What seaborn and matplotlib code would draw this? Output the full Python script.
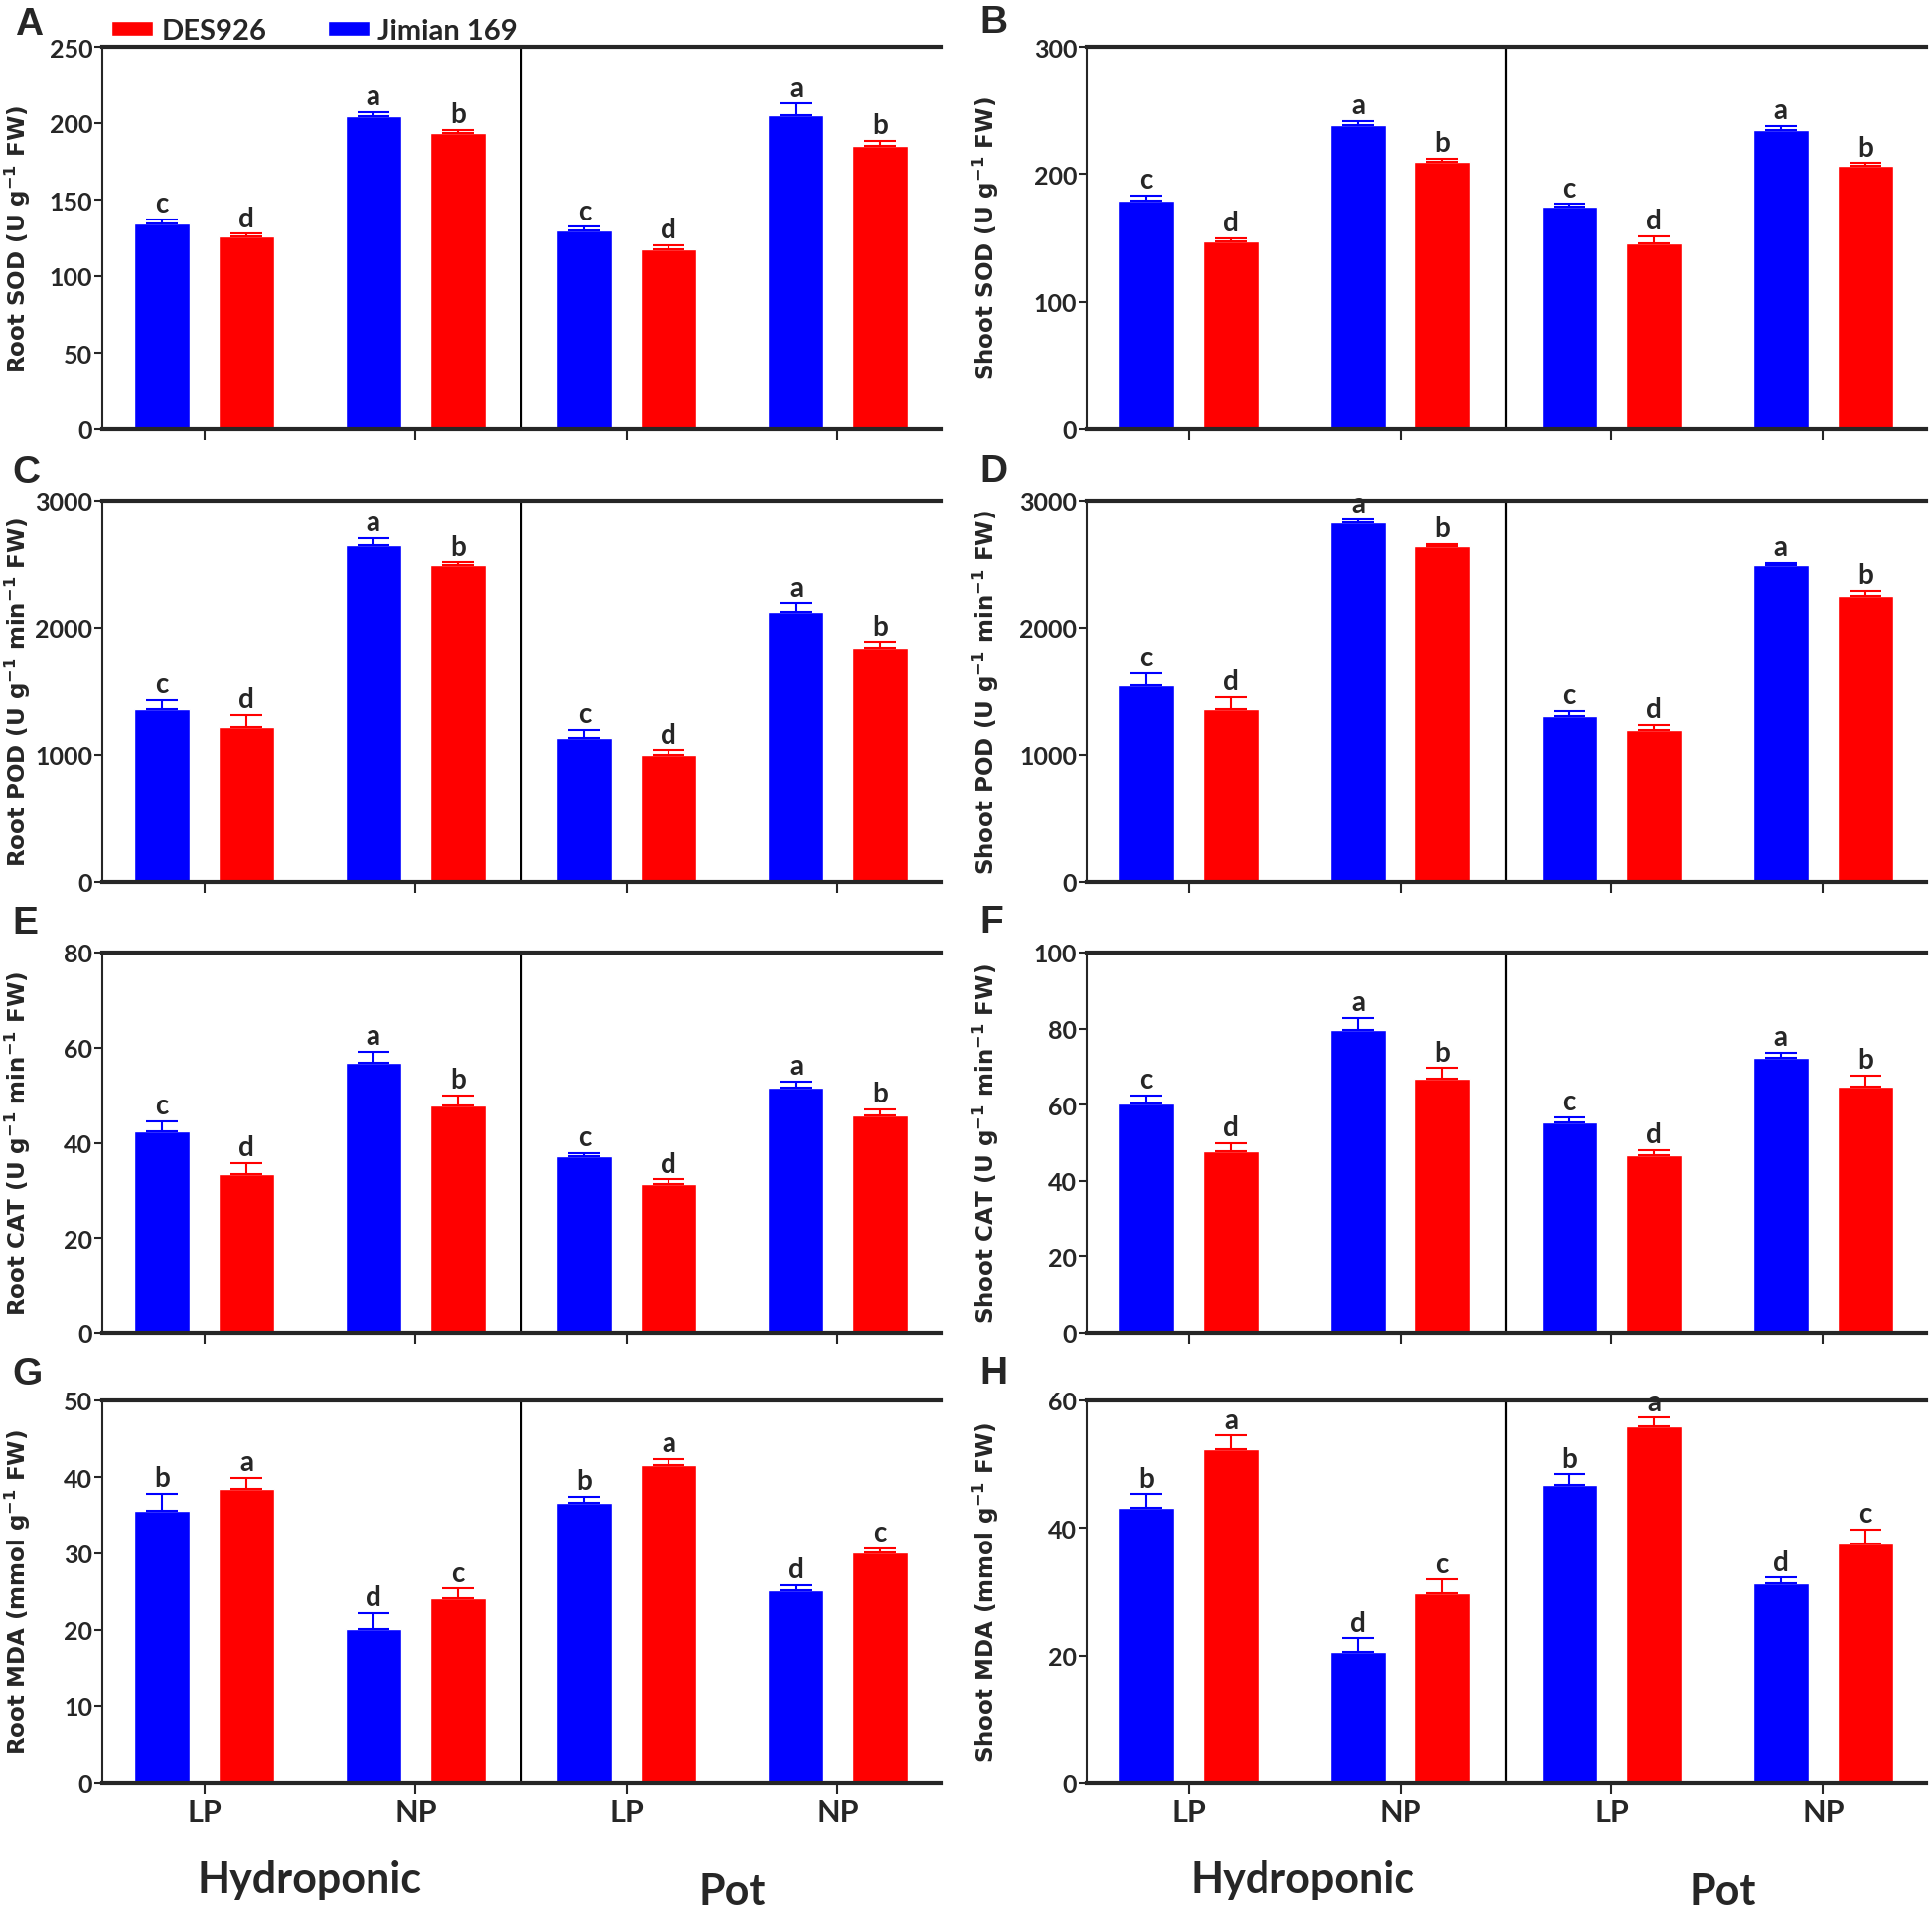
import numpy as np
import pandas as pd
import seaborn as sns
import matplotlib.pyplot as plt
from matplotlib.patches import Patch

CONDITIONS = ['Hydroponic LP', 'Hydroponic NP', 'Pot LP', 'Pot NP']
TICK_LABELS = ['LP', 'NP', 'LP', 'NP']
CULTIVARS = ['Jimian 169', 'DES926']
COLORS = {'Jimian 169': '#0000FF', 'DES926': '#FF0000'}

# means and SE, order = CONDITIONS
root_sod_jim = [134.3, 204.4, 129.6, 205.1]
root_sod_jim_se = [2.6, 2.8, 2.6, 7.6]
root_sod_des = [125.9, 193.6, 117.4, 185.1]
root_sod_des_se = [1.7, 2.1, 3.0, 3.1]

shoot_sod_jim = [179.6, 238.7, 174.2, 234.5]
shoot_sod_jim_se = [3.5, 3.1, 2.3, 3.4]
shoot_sod_des = [147.4, 209.3, 145.8, 206.7]
shoot_sod_des_se = [2.3, 2.6, 5.2, 1.8]

root_pod_jim = [1356, 2649, 1135, 2122]
root_pod_jim_se = [73, 57, 60, 70]
root_pod_des = [1221, 2494, 1000, 1844]
root_pod_des_se = [93, 18, 36, 44]

shoot_pod_jim = [1546, 2828, 1304, 2490]
shoot_pod_jim_se = [93, 24, 41, 21]
shoot_pod_des = [1363, 2639, 1197, 2253]
shoot_pod_des_se = [89, 18, 36, 39]

root_cat_jim = [42.4, 56.9, 37.1, 51.5]
root_cat_jim_se = [2.1, 2.2, 0.8, 1.4]
root_cat_des = [33.5, 47.9, 31.3, 45.8]
root_cat_des_se = [2.3, 2.1, 1.0, 1.3]

shoot_cat_jim = [60.4, 79.7, 55.3, 72.3]
shoot_cat_jim_se = [2.1, 3.0, 1.4, 1.4]
shoot_cat_des = [47.8, 66.9, 46.7, 64.8]
shoot_cat_des_se = [2.2, 2.7, 1.4, 2.8]

root_mda_jim = [35.6, 20.1, 36.6, 25.2]
root_mda_jim_se = [2.2, 2.1, 0.8, 0.7]
root_mda_des = [38.5, 24.1, 41.5, 30.1]
root_mda_des_se = [1.4, 1.3, 0.9, 0.6]

shoot_mda_jim = [43.1, 20.5, 46.8, 31.4]
shoot_mda_jim_se = [2.2, 2.2, 1.6, 0.8]
shoot_mda_des = [52.3, 29.7, 55.9, 37.5]
shoot_mda_des_se = [2.2, 2.2, 1.4, 2.2]

letters_enzyme_jim = ['c', 'a', 'c', 'a']
letters_enzyme_des = ['d', 'b', 'd', 'b']
letters_mda_jim = ['b', 'd', 'b', 'd']
letters_mda_des = ['a', 'c', 'a', 'c']

W, H = 1945, 1924

sns.set_style('ticks')
plt.rcParams['font.family'] = ['Lato', 'DejaVu Sans']
plt.rcParams['font.weight'] = 'bold'
plt.rcParams['mathtext.fontset'] = 'dejavusans'
plt.rcParams['mathtext.default'] = 'bf'

panels = [
    ('A', 0, 0, root_sod_jim, root_sod_jim_se, root_sod_des, root_sod_des_se,
     letters_enzyme_jim, letters_enzyme_des, 250, 50, r'Root SOD (U g$^{-1}$ FW)'),
    ('B', 0, 1, shoot_sod_jim, shoot_sod_jim_se, shoot_sod_des, shoot_sod_des_se,
     letters_enzyme_jim, letters_enzyme_des, 300, 100, r'Shoot SOD (U g$^{-1}$ FW)'),
    ('C', 1, 0, root_pod_jim, root_pod_jim_se, root_pod_des, root_pod_des_se,
     letters_enzyme_jim, letters_enzyme_des, 3000, 1000, r'Root POD (U g$^{-1}$ min$^{-1}$ FW)'),
    ('D', 1, 1, shoot_pod_jim, shoot_pod_jim_se, shoot_pod_des, shoot_pod_des_se,
     letters_enzyme_jim, letters_enzyme_des, 3000, 1000, r'Shoot POD (U g$^{-1}$ min$^{-1}$ FW)'),
    ('E', 2, 0, root_cat_jim, root_cat_jim_se, root_cat_des, root_cat_des_se,
     letters_enzyme_jim, letters_enzyme_des, 80, 20, r'Root CAT (U g$^{-1}$ min$^{-1}$ FW)'),
    ('F', 2, 1, shoot_cat_jim, shoot_cat_jim_se, shoot_cat_des, shoot_cat_des_se,
     letters_enzyme_jim, letters_enzyme_des, 100, 20, r'Shoot CAT (U g$^{-1}$ min$^{-1}$ FW)'),
    ('G', 3, 0, root_mda_jim, root_mda_jim_se, root_mda_des, root_mda_des_se,
     letters_mda_jim, letters_mda_des, 50, 10, r'Root MDA (mmol g$^{-1}$ FW)'),
    ('H', 3, 1, shoot_mda_jim, shoot_mda_jim_se, shoot_mda_des, shoot_mda_des_se,
     letters_mda_jim, letters_mda_des, 60, 20, r'Shoot MDA (mmol g$^{-1}$ FW)'),
]

# pixel layout of the grid
col_x = [(103, 947), (1094, 1939)]
row_y = [(48, 433), (505, 889), (960, 1343), (1411, 1796)]
letter_xy = {'A': (15, 35), 'B': (986, 33), 'C': (12, 486), 'D': (986, 485),
             'E': (12, 940), 'F': (986, 939), 'G': (12, 1394), 'H': (986, 1393)}
ylabel_x = [-0.083, -0.102]

fig = plt.figure(figsize=(W / 100, H / 100), dpi=100)

for name, r, c, jim, jim_se, des, des_se, let_j, let_d, ymax, ystep, ylabel in panels:
    x0, x1 = col_x[c]
    y0, y1 = row_y[r]
    ax = fig.add_axes([x0 / W, 1 - y1 / H, (x1 - x0) / W, (y1 - y0) / H])

    df = pd.DataFrame({
        'condition': CONDITIONS * 2,
        'cultivar': ['Jimian 169'] * 4 + ['DES926'] * 4,
        'value': jim + des,
    })
    sns.barplot(data=df, x='condition', y='value', hue='cultivar',
                order=CONDITIONS, hue_order=CULTIVARS, palette=COLORS,
                errorbar=None, width=0.8, gap=0.34, saturation=1,
                legend=False, ax=ax)

    for cont, se, letters, cult in zip(ax.containers, [jim_se, des_se],
                                       [let_j, let_d], CULTIVARS):
        xs = [b.get_x() + b.get_width() / 2 for b in cont]
        hs = [b.get_height() for b in cont]
        ax.errorbar(xs, hs, yerr=[np.zeros(len(se)), se], fmt='none',
                    ecolor=COLORS[cult], elinewidth=1.5, capsize=11.5,
                    capthick=1.5)
        for x, h, e, t in zip(xs, hs, se, letters):
            ax.annotate(t, (x, h + e), xytext=(0, 2), textcoords='offset points',
                        ha='center', va='bottom', fontsize=20, fontweight='bold',
                        annotation_clip=False)

    ax.set_xlim(-0.483, 3.487)
    ax.set_ylim(0, ymax)
    ax.set_yticks(np.arange(0, ymax + ystep / 2, ystep))
    ax.axvline(1.5, color='black', lw=1.6)

    ax.spines['right'].set_visible(False)
    ax.spines['top'].set_linewidth(3)
    ax.spines['bottom'].set_linewidth(3)
    ax.spines['left'].set_linewidth(1.5)
    ax.tick_params(axis='y', length=6, width=1.5, pad=1, labelsize=18)
    ax.tick_params(axis='x', length=8, width=1.5, pad=3, labelsize=22)

    ax.set_xticks(range(4))
    if r == 3:
        ax.set_xticklabels(TICK_LABELS)
    else:
        ax.set_xticklabels([])
    ax.set_xlabel('')
    ax.set_ylabel(ylabel, fontsize=16.6, fontweight='bold', family='DejaVu Sans')
    ax.yaxis.set_label_coords(ylabel_x[c], 0.5)

    lx, ly = letter_xy[name]
    fig.text(lx / W, 1 - ly / H, name, ha='left', va='baseline', fontsize=28,
             fontweight='bold', family='Liberation Sans')

# group labels under the bottom row
for xh, xp in [(312, 737), (1312, 1734)]:
    fig.text(xh / W, 1 - 1906 / H, 'Hydroponic', ha='center', va='baseline',
             fontsize=31, fontweight='bold')
    fig.text(xp / W, 1 - 1918 / H, 'Pot', ha='center', va='baseline',
             fontsize=31, fontweight='bold')

handles = [Patch(facecolor=COLORS['DES926'], label='DES926'),
           Patch(facecolor=COLORS['Jimian 169'], label='Jimian 169')]
fig.legend(handles=handles, loc='center left', bbox_to_anchor=(112 / W, 1 - 32 / H),
           ncol=2, frameon=False, fontsize=21, handlelength=1.45, handleheight=0.45,
           handletextpad=0.28, columnspacing=2.1, borderpad=0, borderaxespad=0)

fig.savefig('out.png', dpi=100)
